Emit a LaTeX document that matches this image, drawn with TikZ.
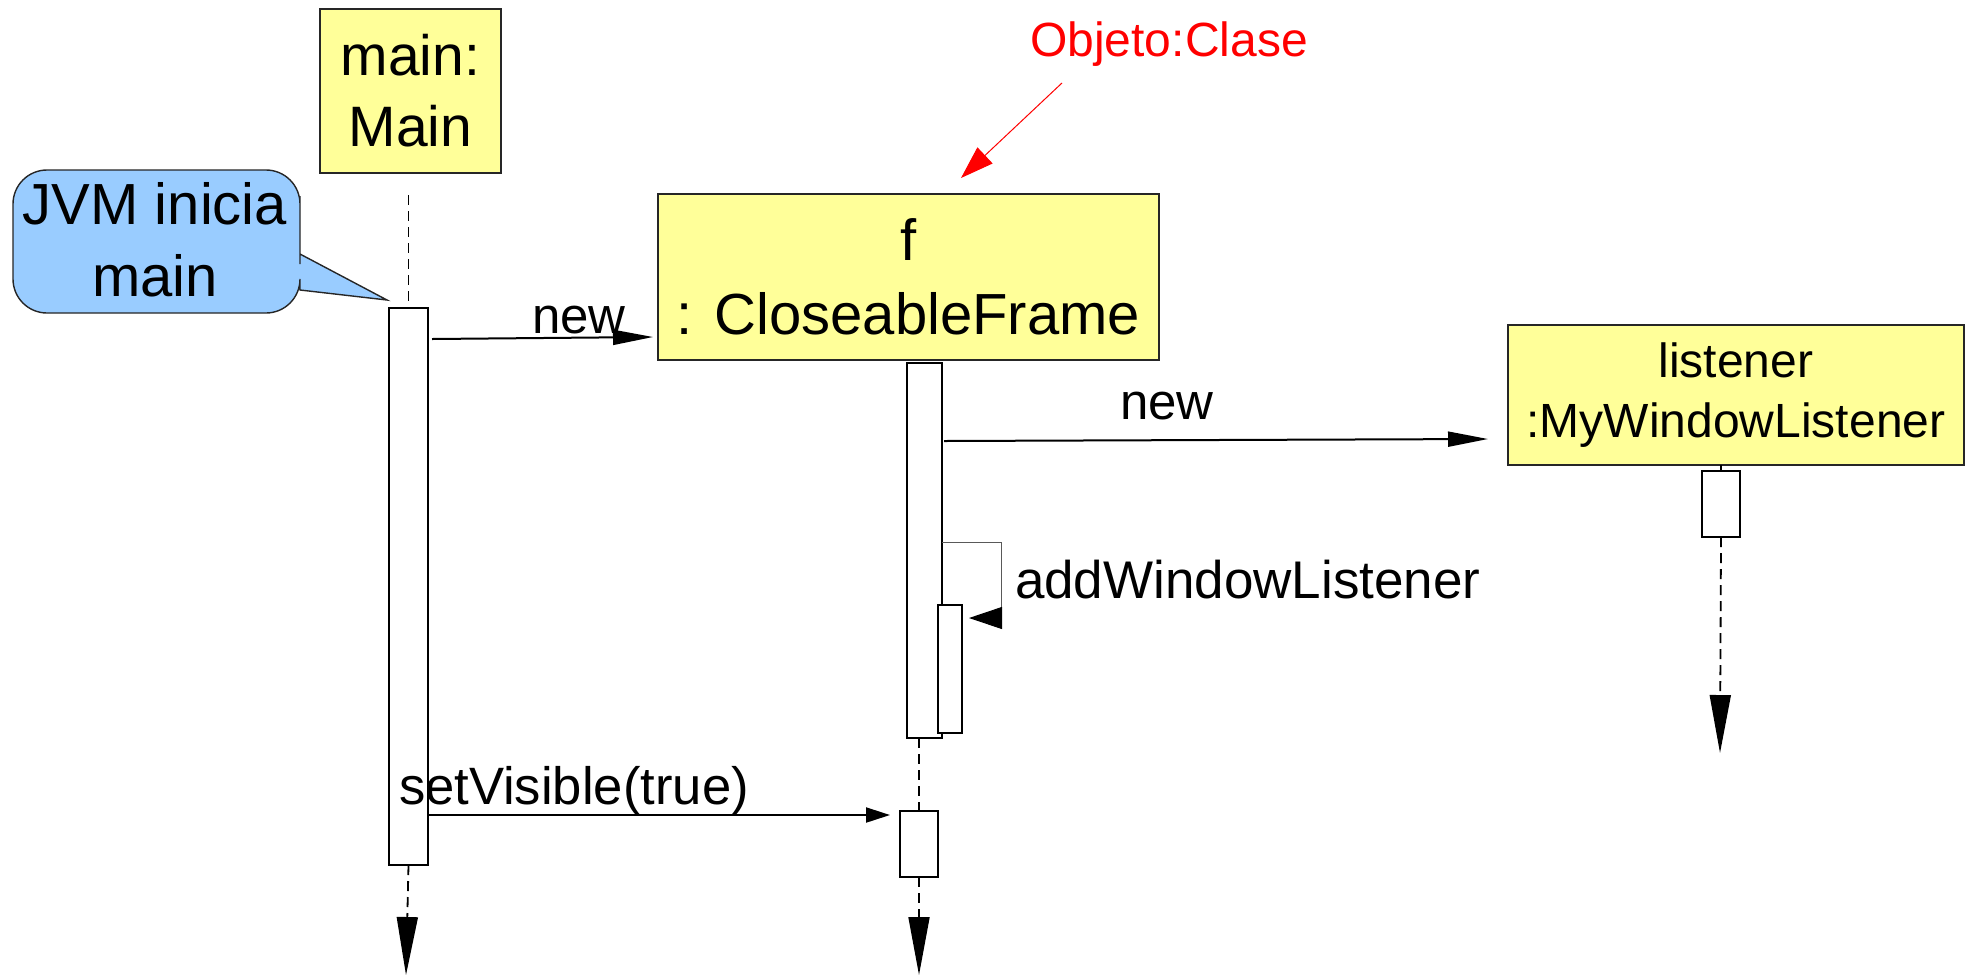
\documentclass[tikz,border=0pt]{standalone}
\usepackage{fontspec}
\setmainfont{Liberation Sans}
\usetikzlibrary{arrows.meta,calc}
\definecolor{objyellow}{HTML}{FFFF99}
\definecolor{noteblue}{HTML}{99CCFF}
\begin{document}
\begin{tikzpicture}[x=0.5pt,y=-0.5pt,
  objbox/.style={draw=black!85, line width=1pt, fill=objyellow, inner sep=0pt, outer sep=0pt, align=center},
  actbox/.style={draw=black, line width=0.8pt, fill=white, inner sep=0pt, outer sep=0pt},
  msg/.style={line width=1pt, -{Triangle[length=20pt,width=7.5pt]}},
  life/.style={line width=0.9pt, dash pattern=on 5pt off 3pt},
  lifeend/.style={life, -{Triangle[length=29pt,width=10.5pt]}},
  lbl/.style={inner sep=0pt, outer sep=0pt, anchor=base},
]
\useasboundingbox (0,0) rectangle (1969,976);

% callout
\draw[fill=noteblue, draw=black!85, line width=0.7pt]
  (300,254) -- (387,300) -- (300,290) [rounded corners=17pt] -- (300,313) -- (13,313) -- (13,170) -- (300,170) -- (300,230) [sharp corners] -- (300,254) -- cycle;
\node[align=center, inner sep=0pt, font=\fontsize{29}{36}\selectfont] (jvm) at (155,240) {JVM inicia\\main};

% object boxes
\node[objbox, minimum width=90.5pt, minimum height=82pt, font=\fontsize{28.5}{35.5}\selectfont] (mainbox) at (410.5,91) {main:\\Main};
\node[objbox, minimum width=250.5pt, minimum height=83pt, font=\fontsize{29}{37}\selectfont] (fbox) at (908.5,277) {f\\: CloseableFrame};
\node[objbox, minimum width=228pt, minimum height=70pt, font=\fontsize{24}{30}\selectfont] (lbox) at (1736,395) {listener\\:MyWindowListener};

% activations
\node[actbox, minimum width=19.5pt, minimum height=278.5pt] (a1) at (408.5,586.5) {};
\node[actbox, minimum width=17.5pt, minimum height=187.5pt] (a2) at (924.5,550.5) {};
\node[actbox, minimum width=12pt, minimum height=64pt] (a3) at (950,669) {};
\node[actbox, minimum width=19pt, minimum height=33pt] (a4) at (919,844) {};
\node[actbox, minimum width=19pt, minimum height=33pt] (a5) at (1721,504) {};

% end points of lifelines
\coordinate (e1) at (406,975);
\coordinate (e2) at (919,975);
\coordinate (e3) at (1720,753);

% lifelines
\draw[life] ($(a1.north |- mainbox.south)+(0,22)$) -- (a1.north);
\draw[lifeend] (a1.south) -- (e1);
\draw[life] (a4.north |- a2.south) -- (a4.north);
\draw[lifeend] (a4.south) -- (e2);
\draw[line width=0.7pt] (a5.north |- lbox.south) -- (a5.north);
\draw[lifeend] (a5.south) -- (e3);

% messages
\draw[msg] ($(a1.north east)+(4,31)$) -- ($(fbox.south west)+(-5,-23)$);
\node[lbl, font=\fontsize{25.5}{30}\selectfont] (new1) at (579,333) {new};

\draw[msg] ($(a2.north east)+(2,78)$) -- ($(lbox.west)+(-20,44)$);
\node[lbl, font=\fontsize{25.5}{30}\selectfont] (new2) at (1167,419) {new};

\draw[line width=0.5pt, black!65] ($(a2.north east)+(0,179)$) -- ++(59,0) -- ++(0,76) coordinate (sc2);
\draw[line width=0.5pt, -{Triangle[length=16.5pt,width=11pt]}] (sc2) -- ($(a3.north east)+(7,13)$);
\node[lbl, anchor=base west, font=\fontsize{26.5}{30}\selectfont] (awl) at (1015,598) {addWindowListener};

\draw[line width=1pt, -{Triangle[length=12pt,width=7.5pt]}] ($(a1.north east)+(0,507)$) -- ($(a4.west)+(-10,-29)$);
\node[lbl, anchor=base west, font=\fontsize{26.3}{30}\selectfont] (sv) at (399,804) {setVisible(true)};

% annotation
\node[lbl, text=red, font=\fontsize{24}{28}\selectfont] (obj) at (1169,56) {Objeto:Clase};
\draw[red, line width=0.5pt, -{Triangle[length=16.5pt,width=11pt]}] ($(obj.south)+(-107,17)$) -- ($(fbox.north)+(52.5,-16)$);
\end{tikzpicture}
\end{document}
